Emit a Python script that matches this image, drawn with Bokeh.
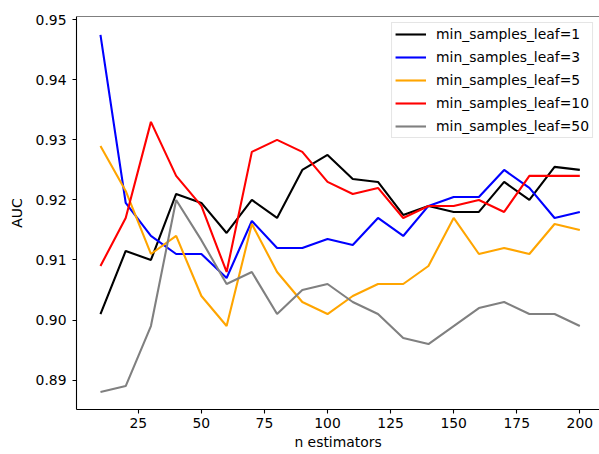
from bokeh.plotting import figure
from bokeh.models import Range1d, FixedTicker, Span, Legend, LegendItem, NumeralTickFormatter
from bokeh.embed import file_html
from bokeh.resources import INLINE

n_estimators = [10, 20, 30, 40, 50, 60, 70, 80, 90, 100,
                110, 120, 130, 140, 150, 160, 170, 180, 190, 200]
leaf_1 = [0.901, 0.9115, 0.910, 0.921, 0.9195, 0.9145, 0.920, 0.917, 0.925, 0.9275,
          0.9235, 0.923, 0.9175, 0.919, 0.918, 0.918, 0.923, 0.920, 0.9255, 0.925]
leaf_3 = [0.9475, 0.9195, 0.914, 0.911, 0.911, 0.907, 0.9165, 0.912, 0.912, 0.9135,
          0.9125, 0.917, 0.914, 0.919, 0.9205, 0.9205, 0.925, 0.922, 0.917, 0.918]
leaf_5 = [0.929, 0.9215, 0.911, 0.914, 0.904, 0.899, 0.916, 0.908, 0.903, 0.901,
          0.904, 0.906, 0.906, 0.909, 0.917, 0.911, 0.912, 0.911, 0.916, 0.915]
leaf_10 = [0.909, 0.917, 0.933, 0.924, 0.919, 0.908, 0.928, 0.930, 0.928, 0.923,
           0.921, 0.922, 0.917, 0.919, 0.919, 0.920, 0.918, 0.924, 0.924, 0.924]
leaf_50 = [0.888, 0.889, 0.899, 0.920, 0.9133, 0.906, 0.908, 0.901, 0.905, 0.906,
           0.903, 0.901, 0.897, 0.896, 0.899, 0.902, 0.903, 0.901, 0.901, 0.899]

series = [
    ("min_samples_leaf=1", leaf_1, "black"),
    ("min_samples_leaf=3", leaf_3, "blue"),
    ("min_samples_leaf=5", leaf_5, "orange"),
    ("min_samples_leaf=10", leaf_10, "red"),
    ("min_samples_leaf=50", leaf_50, "gray"),
]
x_ticks = [25, 50, 75, 100, 125, 150, 175, 200]
y_ticks = [0.89, 0.90, 0.91, 0.92, 0.93, 0.94, 0.95]

FONT = "DejaVu Sans"
FS = "13.9px"

p = figure(width=599, height=454, output_backend="svg", toolbar_location=None,
           x_range=Range1d(0.5, 207.8), y_range=Range1d(0.8851, 0.95055),
           min_border_left=76, min_border_top=16, min_border_right=0,
           min_border_bottom=45)
p.outline_line_color = None
p.grid.visible = False
p.background_fill_color = "white"
p.border_fill_color = "white"

items = []
for label, vals, color in series:
    r = p.line(n_estimators, vals, line_color=color, line_width=2.1)
    items.append(LegendItem(label=label, renderers=[r]))

top = Span(location=0.95055, dimension="width", line_color="black", line_width=1.1)
p.add_layout(top)

for ax in (p.xaxis[0], p.yaxis[0]):
    ax.axis_line_color = "black"
    ax.axis_line_width = 1.1
    ax.major_tick_line_color = "black"
    ax.major_tick_line_width = 1.1
    ax.major_tick_out = 4
    ax.major_tick_in = 0
    ax.minor_tick_line_color = None
    ax.major_label_text_font = FONT
    ax.major_label_text_font_size = FS
    ax.major_label_text_color = "black"
    ax.axis_label_text_font = FONT
    ax.axis_label_text_font_size = FS
    ax.axis_label_text_font_style = "normal"
    ax.axis_label_text_color = "black"

p.xaxis[0].ticker = FixedTicker(ticks=x_ticks)
p.yaxis[0].ticker = FixedTicker(ticks=y_ticks)
p.yaxis[0].formatter = NumeralTickFormatter(format="0.00")
p.xaxis[0].axis_label = "n estimators"
p.yaxis[0].axis_label = "AUC"
p.xaxis[0].major_label_standoff = 4
p.xaxis[0].axis_label_standoff = 3
p.yaxis[0].major_label_standoff = 6
p.yaxis[0].axis_label_standoff = 8

legend = Legend(items=items, location="top_right", margin=6, padding=3,
                glyph_width=31, glyph_height=16, label_height=16, spacing=7,
                label_standoff=10, label_text_font=FONT, label_text_font_size=FS,
                label_text_color="black", border_line_color="#cccccc",
                border_line_width=1, background_fill_alpha=0.8)
p.add_layout(legend)

open("out.html", "w").write(file_html(p, INLINE))
